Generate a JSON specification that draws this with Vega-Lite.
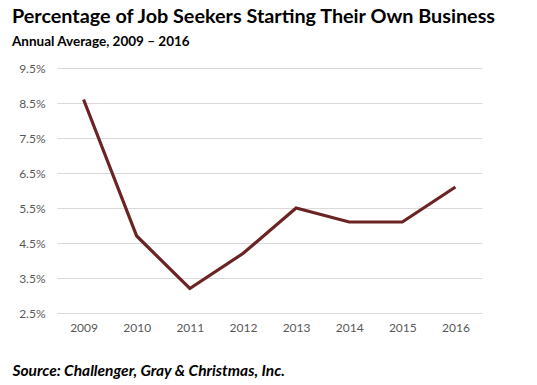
{
  "$schema": "https://vega.github.io/schema/vega-lite/v6.json",
  "width": 425,
  "height": 245,
  "autosize": {"type": "none"},
  "padding": {"left": 57, "top": 68, "right": 55, "bottom": 72},
  "background": "white",
  "title": {
    "text": "Percentage of Job Seekers Starting Their Own Business",
    "subtitle": "Annual Average, 2009 – 2016",
    "anchor": "start",
    "frame": "group",
    "dx": -45,
    "font": "Lato",
    "fontSize": 19.8,
    "fontWeight": "bold",
    "color": "#000000",
    "subtitleFont": "Lato",
    "subtitleFontSize": 13.5,
    "subtitleFontWeight": "bold",
    "subtitleColor": "#000000",
    "subtitlePadding": 8,
    "offset": 14
  },
  "config": {
    "view": {"stroke": null},
    "axis": {"labelFont": "Lato", "labelColor": "#595959", "labelFontSize": 12}
  },
  "data": {
    "values": [
      {"year": "2009", "pct": 0.086},
      {"year": "2010", "pct": 0.047},
      {"year": "2011", "pct": 0.032},
      {"year": "2012", "pct": 0.042},
      {"year": "2013", "pct": 0.055},
      {"year": "2014", "pct": 0.051},
      {"year": "2015", "pct": 0.051},
      {"year": "2016", "pct": 0.061}
    ]
  },
  "mark": {"type": "line", "color": "#6b2323", "strokeWidth": 3.2},
  "encoding": {
    "x": {
      "field": "year",
      "type": "ordinal",
      "scale": {"type": "point", "padding": 0.5},
      "axis": {
        "labelAngle": 0,
        "domain": false,
        "ticks": false,
        "grid": false,
        "labelPadding": 9,
        "title": "Source: Challenger, Gray & Christmas, Inc.",
        "titleAnchor": "start",
        "titleAlign": "left",
        "titleBaseline": "alphabetic",
        "titleX": -45,
        "titleY": 62,
        "titleFont": "Lato",
        "titleFontSize": 15.5,
        "titleFontStyle": "italic",
        "titleFontWeight": "bold",
        "titleColor": "#000000"
      }
    },
    "y": {
      "field": "pct",
      "type": "quantitative",
      "scale": {"domain": [0.025, 0.095], "nice": false, "zero": false},
      "axis": {
        "values": [0.025, 0.035, 0.045, 0.055, 0.065, 0.075, 0.085, 0.095],
        "format": ".1%",
        "domain": false,
        "ticks": false,
        "gridColor": "#d9d9d9",
        "gridWidth": 1,
        "labelPadding": 12,
        "title": null
      }
    }
  }
}
